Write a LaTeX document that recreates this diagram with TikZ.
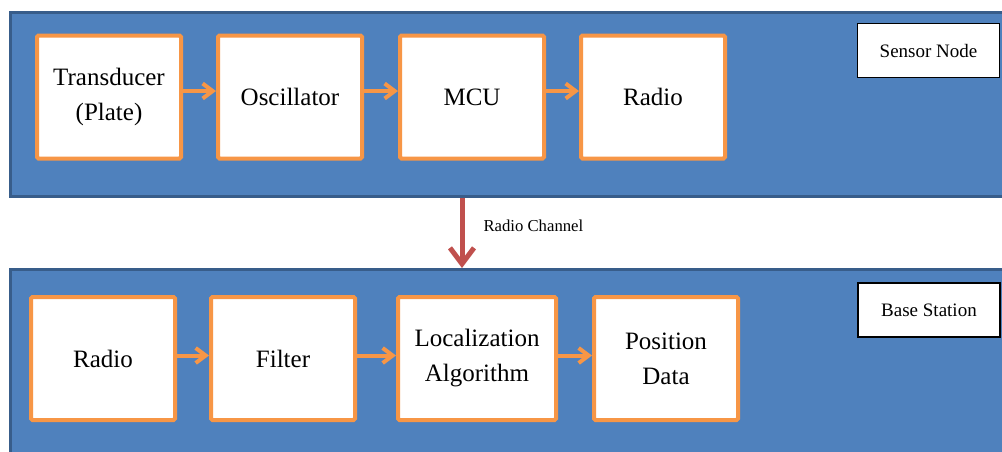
\documentclass[tikz,border=0pt]{standalone}
\usepackage{fontspec}
\setmainfont{Liberation Serif}
\usetikzlibrary{positioning,arrows.meta}
\definecolor{panelblue}{HTML}{4F81BD}
\definecolor{paneledge}{HTML}{385D8A}
\definecolor{blockedge}{HTML}{F79646}
\definecolor{linkred}{HTML}{C0504D}

\begin{document}
\begin{tikzpicture}[x=1pt,y=-1pt,
	panel/.style={rectangle,draw=paneledge,fill=panelblue,line width=3pt,minimum width=1000pt},
	block/.style={rectangle,draw=blockedge,fill=white,line width=4pt,rounded corners=1.5pt,minimum width=144pt,minimum height=123pt,align=center,inner sep=0pt,font=\fontsize{25}{35}\selectfont},
	tag/.style={rectangle,draw=black,fill=white,line width=1.2pt,minimum width=142pt,minimum height=54pt,font=\fontsize{19}{23}\selectfont},
	flow/.style={draw=blockedge,line width=4pt,-{Straight Barb[length=10pt,width=15pt]}},
	radiolink/.style={draw=linkred,line width=5pt,-{Straight Barb[length=16pt,width=24pt]}}]
	
	\useasboundingbox (0,0) rectangle (1002,451);
	\clip (0,0) rectangle (1002,451);
	
	% the two layers
	\node[panel,minimum height=184pt] (sensorpanel) at (510,104) {};
	\node[panel,minimum height=191pt] (basepanel) at (510,365) {};
	
	% sensor node chain
	\node[block] (transducer) at (109,97) {Transducer\\(Plate)};
	\node[block,right=33pt of transducer] (oscillator) {Oscillator};
	\node[block,right=34pt of oscillator] (mcu) {MCU};
	\node[block,right=33pt of mcu] (sradio) {Radio};
	\node[tag] (sensortag) at (928.5,50.5) {Sensor Node};
	
	% base station chain
	\node[block] (bradio) at (103,358.5) {Radio};
	\node[block,right=32pt of bradio] (filter) {Filter};
	\node[block,right=39pt of filter,minimum width=158pt] (localize) {Localization\\Algorithm};
	\node[block,right=34pt of localize] (position) {Position\\Data};
	\node[tag] (basetag) at (929,310) {Base Station};
	
	\foreach \a/\b in {transducer/oscillator,oscillator/mcu,mcu/sradio}
		\draw[flow] ([yshift=6pt]\a.east) -- ([yshift=6pt]\b.west);
	\foreach \a/\b in {bradio/filter,filter/localize,localize/position}
		\draw[flow] ([yshift=3pt]\a.east) -- ([yshift=3pt]\b.west);
	
	% link between the layers
	\coordinate (chan) at (462,230);
	\draw[radiolink] (sensorpanel.south -| chan) -- (basepanel.north -| chan);
	\node[anchor=west,font=\fontsize{16.7}{20}\selectfont] (chanlabel) at (480,226) {Radio Channel};
	
\end{tikzpicture}
\end{document}
